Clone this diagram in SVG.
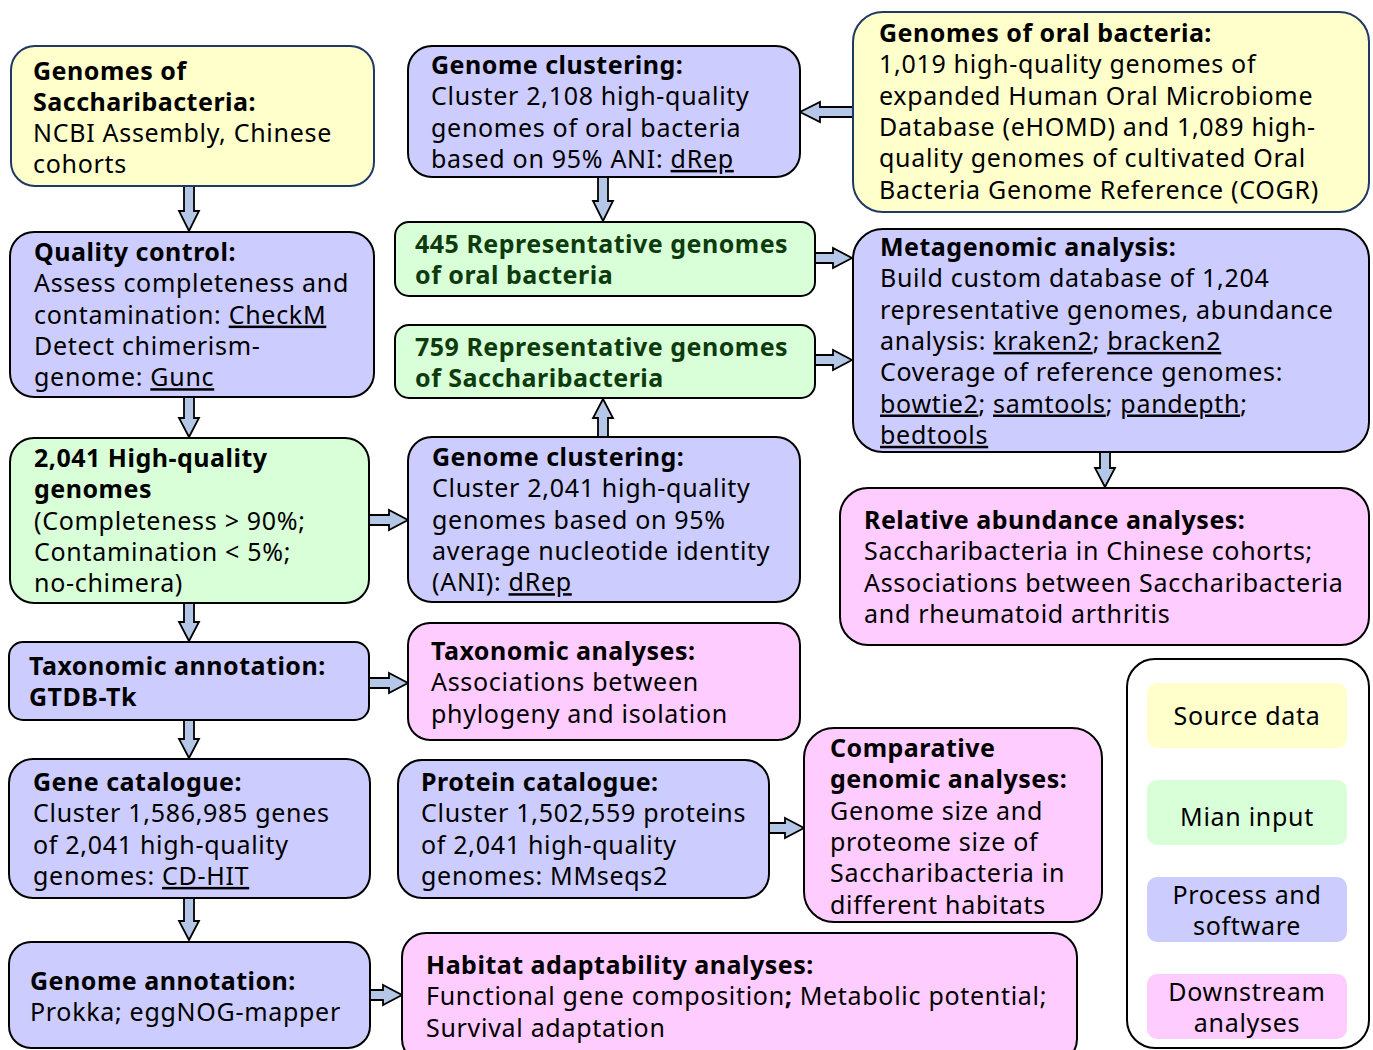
<svg xmlns="http://www.w3.org/2000/svg" width="1373" height="1050" viewBox="0 0 1373 1050">
<style>
text{font-family:"Noto Sans","Open Sans","Liberation Sans",sans-serif;font-size:25px;letter-spacing:0.7px;fill:#000}
.b{font-weight:bold;letter-spacing:0.5px}
.g{fill:#0d3b0d;font-weight:bold;letter-spacing:0.5px}
.u{text-decoration:underline}
.box{stroke:#000;stroke-width:2}
.ybox{fill:#ffffcc;stroke:#1f3864;stroke-width:2}
.gbox{fill:#d9ffd9}
.pbox{fill:#ccccff}
.kbox{fill:#ffccff}
.arr{fill:#b4c7e7;stroke:#000;stroke-width:1.8;stroke-linejoin:miter}
.c{text-anchor:middle}
</style>
<rect width="1373" height="1050" fill="#fff"/>
<g id="connectors">
<polygon class="arr" points="853,107 820,107 820,102 800,112 820,122 820,117 853,117"/>
<polygon class="arr" points="184,186 194,186 194,211 199,211 189,231 179,211 184,211"/>
<polygon class="arr" points="598,177 608,177 608,201 613,201 603,221 593,201 598,201"/>
<polygon class="arr" points="815,253 833,253 833,248 852,258 833,268 833,263 815,263"/>
<polygon class="arr" points="815,355 833,355 833,350 852,360 833,370 833,365 815,365"/>
<polygon class="arr" points="184,397 194,397 194,418 199,418 189,437 179,418 184,418"/>
<polygon class="arr" points="369,515 389,515 389,510 408,520 389,530 389,525 369,525"/>
<polygon class="arr" points="598,437 608,437 608,418 613,418 603,399 593,418 598,418"/>
<polygon class="arr" points="1100,452 1110,452 1110,468 1115,468 1105,487 1095,468 1100,468"/>
<polygon class="arr" points="184,603 194,603 194,622 199,622 189,641 179,622 184,622"/>
<polygon class="arr" points="369,678 389,678 389,673 408,683 389,693 389,688 369,688"/>
<polygon class="arr" points="184,720 194,720 194,739 199,739 189,758 179,739 184,739"/>
<polygon class="arr" points="769,823 785,823 785,818 804,828 785,838 785,833 769,833"/>
<polygon class="arr" points="184,898 194,898 194,921 199,921 189,940 179,921 184,921"/>
<polygon class="arr" points="370,990 383,990 383,985 402,995 383,1005 383,1000 370,1000"/>
</g>
<g id="n-sacch-genomes">
<rect class="ybox" x="11" y="46" width="363" height="140" rx="24"/>
<text x="33" y="79.5" class="b">Genomes of</text>
<text x="33" y="110.8" class="b">Saccharibacteria:</text>
<text x="33" y="142.1">NCBI Assembly, Chinese</text>
<text x="33" y="173.4">cohorts</text>
</g>
<g id="n-clustering-oral">
<rect class="box pbox" x="408" y="46" width="392" height="131" rx="24"/>
<text x="431" y="74" class="b">Genome clustering:</text>
<text x="431" y="105.3">Cluster 2,108 high-quality</text>
<text x="431" y="136.6">genomes of oral bacteria</text>
<text x="431" y="167.9">based on 95% ANI: <tspan class="u">dRep</tspan></text>
</g>
<g id="n-oral-genomes">
<rect class="ybox" x="853" y="12" width="516" height="200" rx="30"/>
<text x="879" y="42" class="b">Genomes of oral bacteria:</text>
<text x="879" y="73.3">1,019 high-quality genomes of</text>
<text x="879" y="104.6">expanded Human Oral Microbiome</text>
<text x="879" y="135.9">Database (eHOMD) and 1,089 high-</text>
<text x="879" y="167.2">quality genomes of cultivated Oral</text>
<text x="879" y="198.5">Bacteria Genome Reference (COGR)</text>
</g>
<g id="n-rep445">
<rect class="box gbox" x="395" y="222" width="420" height="74" rx="14"/>
<text x="415" y="253" class="g">445 Representative genomes</text>
<text x="415" y="284.3" class="g">of oral bacteria</text>
</g>
<g id="n-rep759">
<rect class="box gbox" x="395" y="325" width="420" height="73" rx="14"/>
<text x="415" y="356" class="g">759 Representative genomes</text>
<text x="415" y="387.3" class="g">of Saccharibacteria</text>
</g>
<g id="n-quality">
<rect class="box pbox" x="10" y="232" width="364" height="165" rx="24"/>
<text x="34" y="261" class="b">Quality control:</text>
<text x="34" y="292.3">Assess completeness and</text>
<text x="34" y="323.6">contamination: <tspan class="u">CheckM</tspan></text>
<text x="34" y="354.9">Detect chimerism-</text>
<text x="34" y="386.2">genome: <tspan class="u">Gunc</tspan></text>
</g>
<g id="n-metagenomic">
<rect class="box pbox" x="853" y="229" width="516" height="223" rx="30"/>
<text x="880" y="256" class="b">Metagenomic analysis:</text>
<text x="880" y="287.3">Build custom database of 1,204</text>
<text x="880" y="318.6">representative genomes, abundance</text>
<text x="880" y="349.9">analysis: <tspan class="u">kraken2</tspan>; <tspan class="u">bracken2</tspan></text>
<text x="880" y="381.2">Coverage of reference genomes:</text>
<text x="880" y="412.5"><tspan class="u">bowtie2</tspan>; <tspan class="u">samtools</tspan>; <tspan class="u">pandepth</tspan>;</text>
<text x="880" y="443.8"><tspan class="u">bedtools</tspan></text>
</g>
<g id="n-hq2041">
<rect class="box gbox" x="10" y="438" width="359" height="165" rx="24"/>
<text x="34" y="467" class="b">2,041 High-quality</text>
<text x="34" y="498.3" class="b">genomes</text>
<text x="34" y="529.6">(Completeness &gt; 90%;</text>
<text x="34" y="560.9">Contamination &lt; 5%;</text>
<text x="34" y="592.2">no-chimera)</text>
</g>
<g id="n-clustering-sacch">
<rect class="box pbox" x="408" y="437" width="392" height="165" rx="24"/>
<text x="432" y="466" class="b">Genome clustering:</text>
<text x="432" y="497.3">Cluster 2,041 high-quality</text>
<text x="432" y="528.6">genomes based on 95%</text>
<text x="432" y="559.9">average nucleotide identity</text>
<text x="432" y="591.2">(ANI): <tspan class="u">dRep</tspan></text>
</g>
<g id="n-relative">
<rect class="box kbox" x="840" y="488" width="529" height="157" rx="28"/>
<text x="864" y="529" class="b">Relative abundance analyses:</text>
<text x="864" y="560.3">Saccharibacteria in Chinese cohorts;</text>
<text x="864" y="591.6">Associations between Saccharibacteria</text>
<text x="864" y="622.9">and rheumatoid arthritis</text>
</g>
<g id="n-taxannot">
<rect class="box pbox" x="9" y="642" width="360" height="78" rx="14"/>
<text x="29" y="675" class="b">Taxonomic annotation:</text>
<text x="29" y="706.3" class="b">GTDB-Tk</text>
</g>
<g id="n-taxanalyses">
<rect class="box kbox" x="408" y="623" width="392" height="117" rx="22"/>
<text x="431" y="660" class="b">Taxonomic analyses:</text>
<text x="431" y="691.3">Associations between</text>
<text x="431" y="722.6">phylogeny and isolation</text>
</g>
<g id="n-gene">
<rect class="box pbox" x="9" y="759" width="361" height="139" rx="24"/>
<text x="33" y="791" class="b">Gene catalogue:</text>
<text x="33" y="822.3">Cluster 1,586,985 genes</text>
<text x="33" y="853.6">of 2,041 high-quality</text>
<text x="33" y="884.9">genomes: <tspan class="u">CD-HIT</tspan></text>
</g>
<g id="n-protein">
<rect class="box pbox" x="398" y="760" width="371" height="138" rx="24"/>
<text x="421" y="791" class="b">Protein catalogue:</text>
<text x="421" y="822.3">Cluster 1,502,559 proteins</text>
<text x="421" y="853.6">of 2,041 high-quality</text>
<text x="421" y="884.9">genomes: MMseqs2</text>
</g>
<g id="n-comparative">
<rect class="box kbox" x="804" y="728" width="298" height="194" rx="30"/>
<text x="830" y="757" class="b">Comparative</text>
<text x="830" y="788.3" class="b">genomic analyses:</text>
<text x="830" y="819.6">Genome size and</text>
<text x="830" y="850.9">proteome size of</text>
<text x="830" y="882.2">Saccharibacteria in</text>
<text x="830" y="913.5">different habitats</text>
</g>
<g id="n-genomeannot">
<rect class="box pbox" x="9" y="942" width="361" height="106" rx="22"/>
<text x="30" y="990" class="b">Genome annotation:</text>
<text x="30" y="1021.3">Prokka; eggNOG-mapper</text>
</g>
<g id="n-habitat">
<rect class="box kbox" x="402" y="933" width="675" height="130" rx="24"/>
<text x="426" y="974" class="b">Habitat adaptability analyses:</text>
<text x="426" y="1005.3">Functional gene composition<tspan class="b">;</tspan> Metabolic potential;</text>
<text x="426" y="1036.6">Survival adaptation</text>
</g>
<g id="legend">
<rect x="1127" y="659" width="242" height="389" rx="28" fill="#fff" stroke="#000" stroke-width="2"/>
<rect x="1147" y="683" width="200" height="65" rx="10" fill="#ffffcc"/>
<text x="1247" y="725" class="c">Source data</text>
<rect x="1147" y="780" width="200" height="65" rx="10" fill="#d9ffd9"/>
<text x="1247" y="826" class="c">Mian input</text>
<rect x="1147" y="877" width="200" height="65" rx="10" fill="#ccccff"/>
<text x="1247" y="904" class="c">Process and</text>
<text x="1247" y="935.3" class="c">software</text>
<rect x="1147" y="974" width="200" height="65" rx="10" fill="#ffccff"/>
<text x="1247" y="1001" class="c">Downstream</text>
<text x="1247" y="1032.3" class="c">analyses</text>
</g>
</svg>
